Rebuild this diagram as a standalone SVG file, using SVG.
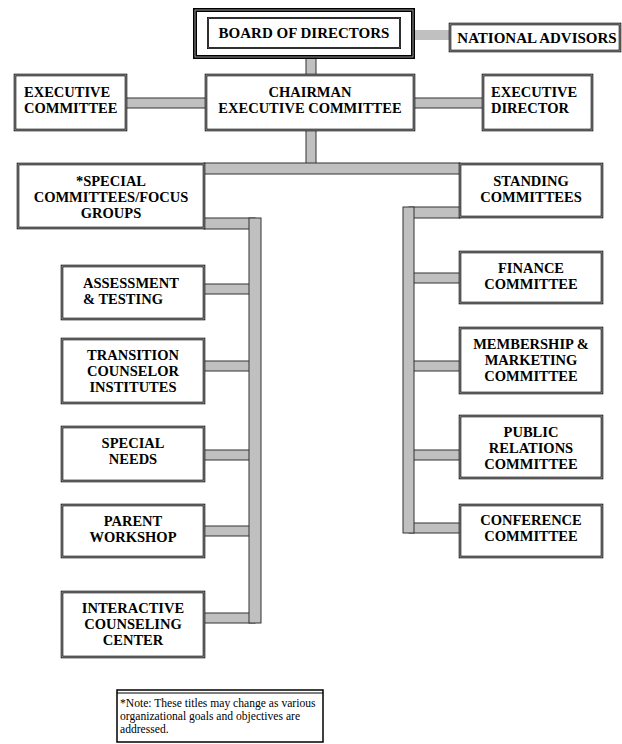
<svg xmlns="http://www.w3.org/2000/svg" width="622" height="744" viewBox="0 0 622 744">
<style>
.bg{fill:#fff}
.box{fill:#fff;stroke:#111;stroke-width:2.6}
.boxin{fill:none;stroke:#aaa;stroke-width:0.9}
.bar{fill:#c0c0c0;stroke:#333;stroke-width:1}
.barp{fill:#c0c0c0}
.t{font-family:'Liberation Serif','Times New Roman','DejaVu Serif',serif;font-weight:bold;font-size:14.5px;fill:#000}
.c{text-anchor:middle}
.n{font-family:'Liberation Serif','Times New Roman','DejaVu Serif',serif;font-size:11.6px;fill:#000}
</style>
<rect class="bg" x="0" y="0" width="622" height="744"/>
<g id="connectors">
<rect class="barp" x="413" y="30" width="37" height="10"/>
<rect class="bar" x="306" y="57" width="10" height="18"/>
<rect class="bar" x="126" y="98" width="80" height="10"/>
<rect class="bar" x="414" y="98" width="69" height="10"/>
<rect class="bar" x="306" y="130" width="10" height="34"/>
<rect class="bar" x="204" y="163" width="256" height="11"/>
<rect class="bar" x="204" y="218" width="51" height="11"/>
<rect class="bar" x="204" y="284" width="51" height="10"/>
<rect class="bar" x="204" y="361" width="51" height="10"/>
<rect class="bar" x="204" y="450" width="51" height="10"/>
<rect class="bar" x="204" y="526" width="51" height="10"/>
<rect class="bar" x="204" y="613" width="51" height="10"/>
<rect class="bar" x="249" y="218" width="12" height="405"/>
<rect class="bar" x="409" y="207" width="51" height="11"/>
<rect class="bar" x="409" y="273" width="51" height="10"/>
<rect class="bar" x="409" y="361" width="51" height="10"/>
<rect class="bar" x="409" y="450" width="51" height="10"/>
<rect class="bar" x="409" y="523" width="51" height="10"/>
<rect class="bar" x="403" y="207" width="11" height="326"/>
</g>
<g id="board">
<rect x="195" y="10" width="218" height="47" fill="#fff" stroke="#000" stroke-width="4"/>
<rect x="195" y="10" width="218" height="47" fill="none" stroke="#999" stroke-width="1"/>
<rect x="208" y="18" width="192" height="30" fill="none" stroke="#000" stroke-width="2"/>
<rect x="208" y="18" width="192" height="30" fill="none" stroke="#888" stroke-width="0.7"/>
<text class="t c" x="304" y="38" style="font-size:15px">BOARD OF DIRECTORS</text>
</g>
<g id="national-advisors">
<rect class="box" x="450" y="24" width="170" height="27"/>
<rect class="boxin" x="450" y="24" width="170" height="27"/>
<text class="t c" x="537" y="43" style="font-size:15px">NATIONAL ADVISORS</text>
</g>
<g id="executive-committee">
<rect class="box" x="15" y="75" width="111" height="55"/>
<rect class="boxin" x="15" y="75" width="111" height="55"/>
<text class="t" x="24" y="97">EXECUTIVE</text>
<text class="t" x="24" y="113">COMMITTEE</text>
</g>
<g id="chairman">
<rect class="box" x="206" y="75" width="208" height="55"/>
<rect class="boxin" x="206" y="75" width="208" height="55"/>
<text class="t c" x="310" y="97">CHAIRMAN</text>
<text class="t c" x="310" y="113">EXECUTIVE COMMITTEE</text>
</g>
<g id="executive-director">
<rect class="box" x="483" y="75" width="109" height="55"/>
<rect class="boxin" x="483" y="75" width="109" height="55"/>
<text class="t" x="491" y="97">EXECUTIVE</text>
<text class="t" x="491" y="113">DIRECTOR</text>
</g>
<g id="special-committees">
<rect class="box" x="18" y="164" width="186" height="64"/>
<rect class="boxin" x="18" y="164" width="186" height="64"/>
<text class="t c" x="111" y="186">*SPECIAL</text>
<text class="t c" x="111" y="202">COMMITTEES/FOCUS</text>
<text class="t c" x="111" y="218">GROUPS</text>
</g>
<g id="standing-committees">
<rect class="box" x="460" y="164" width="142" height="53"/>
<rect class="boxin" x="460" y="164" width="142" height="53"/>
<text class="t c" x="531" y="186">STANDING</text>
<text class="t c" x="531" y="202">COMMITTEES</text>
</g>
<g id="assessment">
<rect class="box" x="62" y="266" width="142" height="53"/>
<rect class="boxin" x="62" y="266" width="142" height="53"/>
<text class="t" x="83" y="288">ASSESSMENT</text>
<text class="t" x="83" y="304">&amp; TESTING</text>
</g>
<g id="transition">
<rect class="box" x="62" y="339" width="142" height="64"/>
<rect class="boxin" x="62" y="339" width="142" height="64"/>
<text class="t c" x="133" y="360">TRANSITION</text>
<text class="t c" x="133" y="376">COUNSELOR</text>
<text class="t c" x="133" y="392">INSTITUTES</text>
</g>
<g id="special-needs">
<rect class="box" x="62" y="427" width="142" height="54"/>
<rect class="boxin" x="62" y="427" width="142" height="54"/>
<text class="t c" x="133" y="448">SPECIAL</text>
<text class="t c" x="133" y="464">NEEDS</text>
</g>
<g id="parent-workshop">
<rect class="box" x="62" y="505" width="142" height="52"/>
<rect class="boxin" x="62" y="505" width="142" height="52"/>
<text class="t c" x="133" y="526">PARENT</text>
<text class="t c" x="133" y="542">WORKSHOP</text>
</g>
<g id="interactive">
<rect class="box" x="62" y="592" width="142" height="65"/>
<rect class="boxin" x="62" y="592" width="142" height="65"/>
<text class="t c" x="133" y="613">INTERACTIVE</text>
<text class="t c" x="133" y="629">COUNSELING</text>
<text class="t c" x="133" y="645">CENTER</text>
</g>
<g id="finance">
<rect class="box" x="460" y="252" width="142" height="51"/>
<rect class="boxin" x="460" y="252" width="142" height="51"/>
<text class="t c" x="531" y="273">FINANCE</text>
<text class="t c" x="531" y="289">COMMITTEE</text>
</g>
<g id="membership">
<rect class="box" x="460" y="328" width="142" height="65"/>
<rect class="boxin" x="460" y="328" width="142" height="65"/>
<text class="t c" x="531" y="349">MEMBERSHIP &amp;</text>
<text class="t c" x="531" y="365">MARKETING</text>
<text class="t c" x="531" y="381">COMMITTEE</text>
</g>
<g id="public-relations">
<rect class="box" x="460" y="416" width="142" height="62"/>
<rect class="boxin" x="460" y="416" width="142" height="62"/>
<text class="t c" x="531" y="437">PUBLIC</text>
<text class="t c" x="531" y="453">RELATIONS</text>
<text class="t c" x="531" y="469">COMMITTEE</text>
</g>
<g id="conference">
<rect class="box" x="460" y="505" width="142" height="52"/>
<rect class="boxin" x="460" y="505" width="142" height="52"/>
<text class="t c" x="531" y="525">CONFERENCE</text>
<text class="t c" x="531" y="541">COMMITTEE</text>
</g>
<g id="note">
<rect x="117" y="690" width="206" height="52" fill="#fff" stroke="#000" stroke-width="1.5"/>
<line x1="117" y1="693" x2="323" y2="693" stroke="#000" stroke-width="1"/>
<text class="n" x="120" y="707">*Note: These titles may change as various</text>
<text class="n" x="120" y="720">organizational goals and objectives are</text>
<text class="n" x="120" y="733">addressed.</text>
</g>
</svg>
